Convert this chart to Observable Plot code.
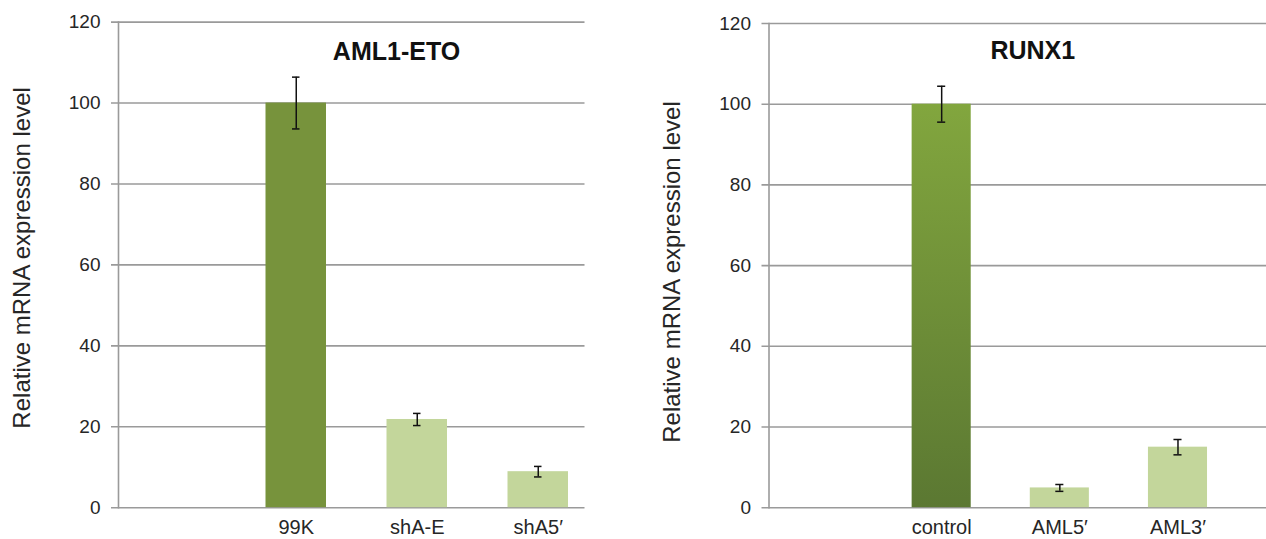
<!DOCTYPE html>
<html>
<head>
<meta charset="utf-8">
<script src="https://cdn.jsdelivr.net/npm/d3@7"></script>
<script src="https://cdn.jsdelivr.net/npm/@observablehq/plot@0.6"></script>
<style>
  html, body { margin: 0; padding: 0; background: #fff; }
  #wrap { display: flex; width: 1266px; height: 539px; overflow: hidden; }
</style>
</head>
<body>
<div id="wrap"></div>
<script>
// ---- data ----
const yTicks = [0, 20, 40, 60, 80, 100, 120];
const yLabel = "Relative mRNA expression level";

const leftTitle = "AML1-ETO";
const leftCats = ["99K", "shA-E", "shA5′"];
const leftVals = [100, 21.8, 8.9];
const leftErrs = [6.4, 1.5, 1.3];

const rightTitle = "RUNX1";
const rightCats = ["control", "AML5′", "AML3′"];
const rightVals = [100, 4.9, 15.0];
const rightErrs = [4.45, 0.85, 1.9];

// ---- styles ----
const FONT = "'Liberation Sans', Arial, Helvetica, sans-serif";
const GRID = "#9a9a9a";
const TEXT = "#262626";
const DARK = "#77933c";
const LIGHT = "#c3d69b";
const GRAD_TOP = "#82a63e";
const GRAD_BOTTOM = "#5b7832";

function gradientDefs() {
  const defs = d3.create("svg:defs");
  const g = defs.append("linearGradient")
    .attr("id", "ctrlGrad").attr("x1", 0).attr("y1", 0).attr("x2", 0).attr("y2", 1);
  g.append("stop").attr("offset", "0%").attr("stop-color", GRAD_TOP);
  g.append("stop").attr("offset", "100%").attr("stop-color", GRAD_BOTTOM);
  return defs.node();
}

function panel(o) {
  const rows = o.cats.map((c, i) => ({cat: c, v: o.vals[i], e: o.errs[i], fill: i === 0 ? o.firstFill : LIGHT}));
  return Plot.plot({
    width: o.width,
    height: 539,
    marginLeft: o.marginLeft,
    marginRight: o.marginRight,
    marginTop: o.marginTop,
    marginBottom: 31.8,
    style: {fontFamily: FONT, fontSize: "19px", color: TEXT, background: "white", overflow: "visible"},
    x: {domain: ["", ...o.cats], range: o.range, padding: 0.5, round: false, label: null, axis: null},
    y: {domain: [0, 120], label: null, axis: null},
    color: {type: "identity"},
    marks: [
      gradientDefs,
      Plot.ruleY(yTicks, {stroke: GRID, strokeWidth: 1.6, insetLeft: -7}),
      Plot.frame({anchor: "left", stroke: GRID, strokeWidth: 1.6}),
      Plot.barY(rows, {x: "cat", y: "v", fill: "fill"}),
      Plot.ruleX(rows, {x: "cat", y1: d => d.v - d.e, y2: d => d.v + d.e, stroke: "#111", strokeWidth: 1.5}),
      Plot.tickY(rows, {x: "cat", y: d => d.v - d.e, stroke: "#111", strokeWidth: 1.5, inset: o.capInset}),
      Plot.tickY(rows, {x: "cat", y: d => d.v + d.e, stroke: "#111", strokeWidth: 1.5, inset: o.capInset}),
      Plot.axisY({ticks: yTicks, tickSize: 0, tickPadding: 18, fontSize: 19, label: null, fill: TEXT}),
      Plot.axisX({tickSize: 0, tickPadding: 12, fontSize: 20, label: null, fill: TEXT}),
      Plot.text([o.title], {frameAnchor: "top", textAnchor: "middle", lineAnchor: "top",
        dx: o.titleDx, dy: o.titleDy, fontSize: 25, fontWeight: "bold", fill: "#111"}),
      Plot.text([yLabel], {frameAnchor: "left", textAnchor: "middle", lineAnchor: "middle", rotate: -90,
        dx: o.labelDx, dy: o.labelDy, fontSize: 24, fill: TEXT})
    ]
  });
}

const left = panel({
  cats: leftCats, vals: leftVals, errs: leftErrs, title: leftTitle,
  width: 640, marginLeft: 118, marginRight: 55.5, marginTop: 21.6,
  range: [84, 628.5], capInset: 26.5, firstFill: DARK,
  titleDx: 44.75, titleDy: 20, labelDx: -96, labelDy: -7
});
const right = panel({
  cats: rightCats, vals: rightVals, errs: rightErrs, title: rightTitle,
  width: 626, marginLeft: 128.5, marginRight: 0, marginTop: 23,
  range: [94.4, 626.1], capInset: 25.5, firstFill: "url(#ctrlGrad)",
  titleDx: 15, titleDy: 17.5, labelDx: -96.9, labelDy: 6.4
});
document.getElementById("wrap").append(left, right);
</script>
</body>
</html>
